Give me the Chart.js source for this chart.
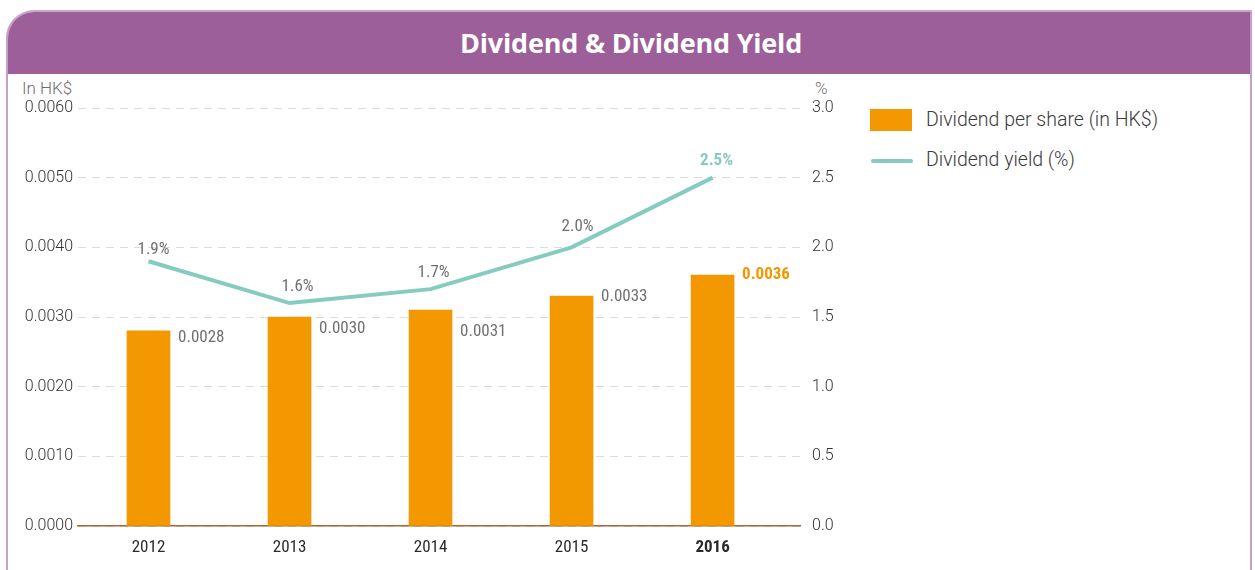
<!DOCTYPE html>
<html>
<head>
<meta charset="utf-8">
<script src="https://cdn.jsdelivr.net/npm/chart.js@4/dist/chart.umd.min.js"></script>
<style>
  html, body { margin: 0; padding: 0; background: #fff; width: 1255px; height: 570px; overflow: hidden; }
  #card { position: absolute; left: 6px; top: 10px; width: 1246px; height: 580px; border: 2px solid #c79fc6; border-bottom: none; border-top-left-radius: 28px; overflow: hidden; box-sizing: border-box; border-top-color: #c9a9c8; }
  #header { position: absolute; left: 0; top: 0; right: 0; height: 62px; background: #9c5f9a; color: #fff; font-family: "Open Sans", sans-serif; font-weight: 700; font-size: 27px; text-align: center; line-height: 62px; letter-spacing: -0.2px; }
  #header span { position: relative; left: 2px; }
  #chartWrap { position: absolute; left: 0; top: 0; width: 850px; height: 570px; }
  .unit { position: absolute; font-family: Roboto, sans-serif; font-weight: 300; font-size: 17px; color: #707070; line-height: 18px; -webkit-font-smoothing: antialiased; }
  .legend { position: absolute; font-family: Roboto, sans-serif; font-weight: 300; font-size: 19.5px; color: #3a3a3a; line-height: 22px; -webkit-font-smoothing: antialiased; }
  .swatch-bar { position: absolute; left: 870px; top: 109px; width: 42px; height: 22px; background: #f39800; }
  .swatch-line { position: absolute; left: 871px; top: 159px; width: 42px; height: 4px; border-radius: 2px; background: #86cbbf; }
</style>
</head>
<body>
<div id="card"><div id="header"><span>Dividend &amp; Dividend Yield</span></div></div>
<div class="unit" style="left:22px; top:79px;">In HK$</div>
<div class="unit" style="left:815px; top:79px;">%</div>
<div class="swatch-bar"></div>
<div class="legend" style="left:926px; top:109px;">Dividend per share (in HK$)</div>
<div class="swatch-line"></div>
<div class="legend" style="left:926px; top:149px;">Dividend yield (%)</div>
<div id="chartWrap"><canvas id="c" width="850" height="570"></canvas></div>
<script>
// ---- data ----
const categories = ["2012", "2013", "2014", "2015", "2016"];
const dividendPerShare = [0.0028, 0.0030, 0.0031, 0.0033, 0.0036];
const dividendYield = [1.9, 1.6, 1.7, 2.0, 2.5];
const leftTicks = [0, 0.001, 0.002, 0.003, 0.004, 0.005, 0.006];
const rightTicks = [0, 0.5, 1.0, 1.5, 2.0, 2.5, 3.0];

// ---- label styling (offsets in px, not data) ----
const barLabelDy = [7, 12, 22, 1, 0];
const lineLabelDx = [5, 8, 3, 6, 4];
const lineLabelDy = [-12, -16, -16, -21, -17];

const ORANGE = '#f39800', TEAL = '#86cbbf', LABEL_GREY = '#707070';
const narrow = '"Liberation Sans Narrow", "Roboto Condensed", "DejaVu Sans Condensed", Roboto, sans-serif';

const labelPlugin = {
  id: 'valueLabels',
  afterDatasetsDraw(chart) {
    const ctx = chart.ctx;
    const last = categories.length - 1;
    ctx.save();
    const barMeta = chart.getDatasetMeta(0);
    barMeta.data.forEach((el, i) => {
      const isLast = i === last;
      ctx.font = (isLast ? 'bold ' : '') + '17px ' + narrow;
      ctx.fillStyle = isLast ? ORANGE : LABEL_GREY;
      ctx.textAlign = 'left';
      ctx.textBaseline = 'middle';
      const label = dividendPerShare[i].toFixed(4);
      ctx.fillText(label, el.x + el.width / 2 + 8, el.y + barLabelDy[i]);
    });
    const lineMeta = chart.getDatasetMeta(1);
    lineMeta.data.forEach((el, i) => {
      const isLast = i === last;
      ctx.font = (isLast ? 'bold ' : '') + '17px ' + narrow;
      ctx.fillStyle = isLast ? TEAL : LABEL_GREY;
      ctx.textAlign = 'center';
      ctx.textBaseline = 'middle';
      ctx.fillText(dividendYield[i].toFixed(1) + '%', el.x + lineLabelDx[i], el.y + lineLabelDy[i]);
    });
    ctx.restore();
  }
};

new Chart(document.getElementById('c'), {
  data: {
    labels: categories,
    datasets: [
      {
        type: 'bar',
        label: 'Dividend per share (in HK$)',
        data: dividendPerShare,
        backgroundColor: ORANGE,
        barThickness: 43,
        yAxisID: 'y',
        order: 1
      },
      {
        type: 'line',
        label: 'Dividend yield (%)',
        data: dividendYield,
        borderColor: TEAL,
        borderWidth: 4,
        pointRadius: 0,
        tension: 0,
        fill: false,
        yAxisID: 'y1',
        order: 0
      }
    ]
  },
  options: {
    responsive: false,
    animation: false,
    devicePixelRatio: 1,
    layout: { padding: { top: 108, left: 0, right: 0, bottom: 0 } },
    plugins: { legend: { display: false }, tooltip: { enabled: false }, title: { display: false } },
    scales: {
      x: {
        type: 'category',
        offset: true,
        grid: { display: false, drawTicks: false },
        border: { display: true, color: '#a8672e', width: 1.5 },
        ticks: {
          padding: 12,
          color: '#2b2b2b',
          font: (ctx) => ({ family: narrow, size: 17, weight: ctx.index === categories.length - 1 ? 'bold' : 'normal' })
        },
        afterBuildTicks: (s) => { s._valueRange = 5.12; },
        afterFit: (s) => { s.height = 44; }
      },
      y: {
        position: 'left',
        min: 0,
        max: 0.006,
        afterBuildTicks: (s) => { s.ticks = leftTicks.map(v => ({ value: v })); },
        ticks: {
          padding: 5,
          color: '#333',
          font: { family: 'Roboto, sans-serif', size: 16, weight: '300' },
          callback: (v) => Number(v).toFixed(4)
        },
        grid: { color: '#dcdcdc', lineWidth: 1, drawTicks: false },
        border: { display: false, dash: [8, 6] },
        afterFit: (s) => { s.width = 78; }
      },
      y1: {
        position: 'right',
        min: 0,
        max: 3,
        afterBuildTicks: (s) => { s.ticks = rightTicks.map(v => ({ value: v })); },
        ticks: {
          padding: 12,
          color: '#333',
          font: { family: 'Roboto, sans-serif', size: 16, weight: '300' },
          callback: (v) => Number(v).toFixed(1)
        },
        grid: { display: false, drawTicks: false },
        border: { display: false },
        afterFit: (s) => { s.width = 50; }
      }
    }
  },
  plugins: [labelPlugin]
});
</script>
</body>
</html>
